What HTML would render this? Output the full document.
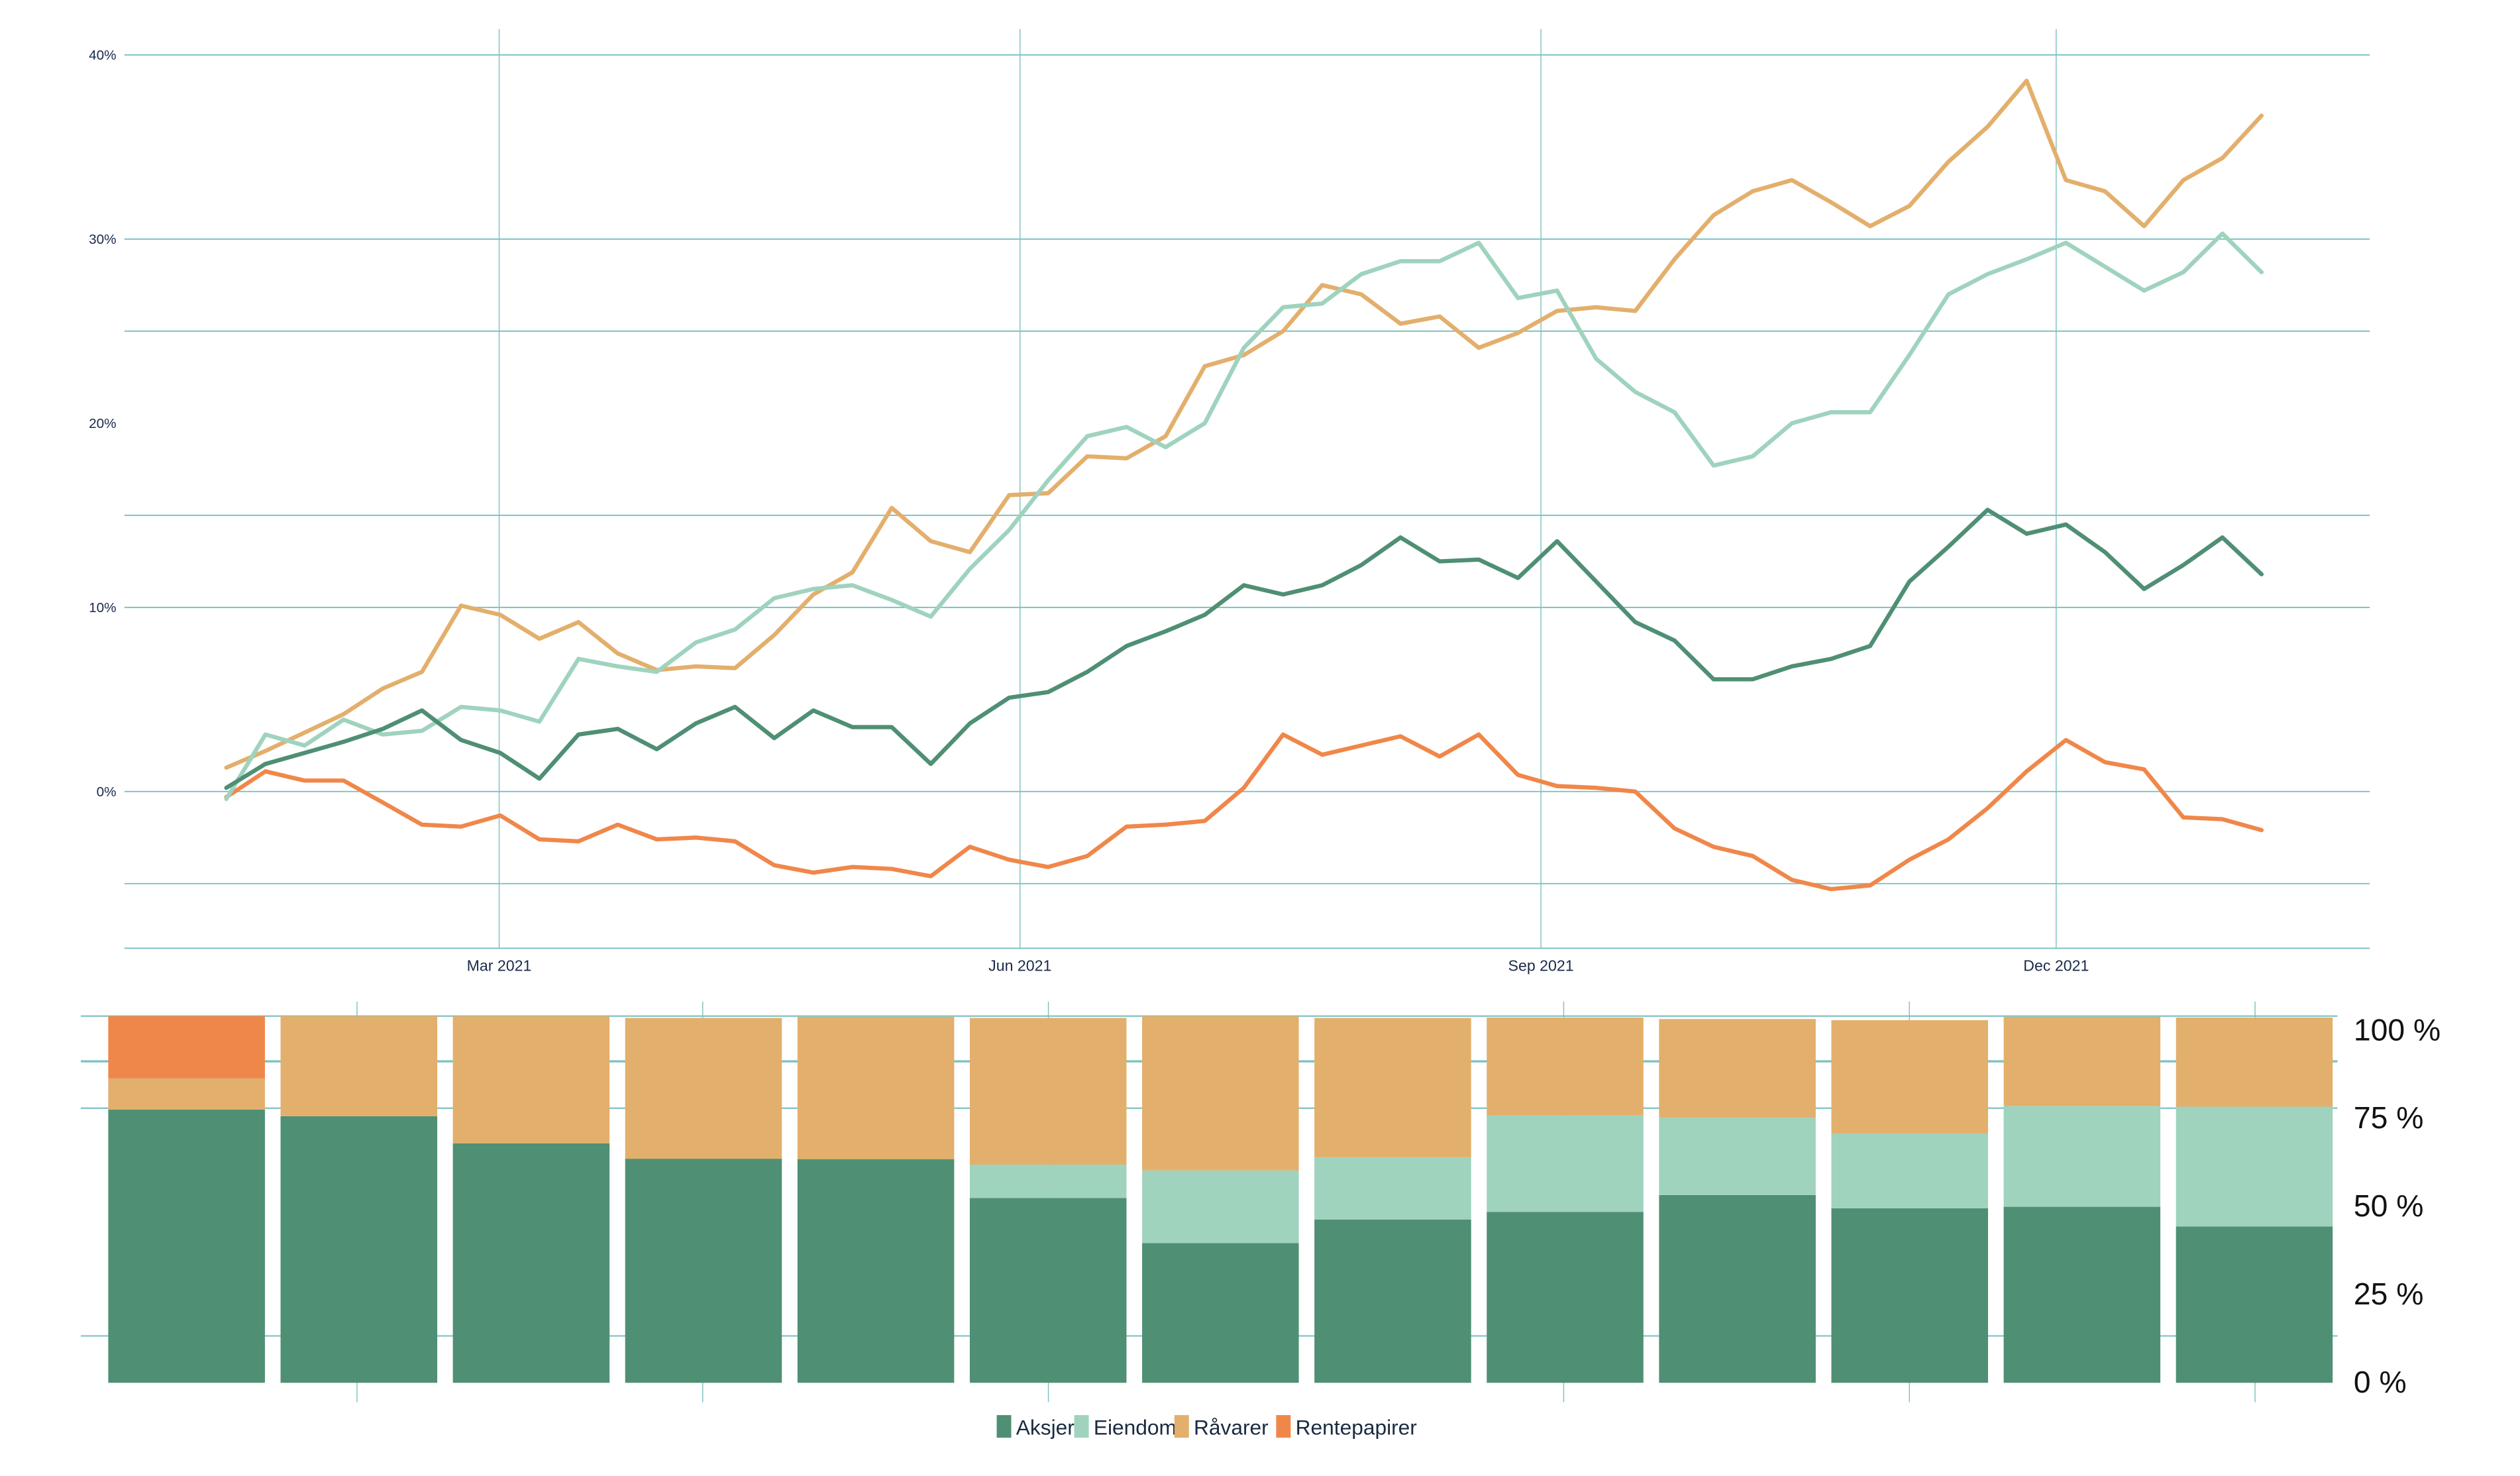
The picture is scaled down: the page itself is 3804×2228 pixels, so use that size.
<!DOCTYPE html>
<html><head><meta charset="utf-8"><style>
html,body{margin:0;padding:0;background:#fff;}
svg{display:block;}
text{font-family:"Liberation Sans",sans-serif;}
</style></head><body>
<svg id="chart" xmlns="http://www.w3.org/2000/svg" width="3804" height="2228" viewBox="0 0 1560 913.7">
<rect x="0" y="0" width="1560" height="913.7" fill="#fff"/>
<g id="top-grid"></g>
<g id="top-lines"></g>
<g id="top-axis"></g>
<g id="bot-grid"></g>
<g id="bars"></g>
<g id="bot-axis"></g>
<g id="legend">
  <rect x="617" y="876" width="9" height="14" fill="#4f8f74"/>
  <text x="629" y="888" font-size="13" fill="#1a2a40">Aksjer</text>
  <rect x="665" y="876" width="9" height="14" fill="#9fd3be"/>
  <text x="677" y="888" font-size="13" fill="#1a2a40">Eiendom</text>
  <rect x="727" y="876" width="9" height="14" fill="#e3af6c"/>
  <text x="739" y="888" font-size="13" fill="#1a2a40">Råvarer</text>
  <rect x="790" y="876" width="9" height="14" fill="#f0874a"/>
  <text x="802" y="888" font-size="13" fill="#1a2a40">Rentepapirer</text>
</g>
</svg>
<script>
// ---- line chart data (cumulative return, %) ----
const startDay = -48.2;     // days relative to 1 Mar 2021
const stepDays = 6.913;
const aksjer = [0.2,1.5,2.1,2.7,3.4,4.4,2.8,2.1,0.7,3.1,3.4,2.3,3.7,4.6,2.9,4.4,3.5,3.5,1.5,3.7,5.1,5.4,6.5,7.9,8.7,9.6,11.2,10.7,11.2,12.3,13.8,12.5,12.6,11.6,13.6,11.4,9.2,8.2,6.1,6.1,6.8,7.2,7.9,11.4,13.3,15.3,14.0,14.5,13.0,11.0,12.3,13.8,11.8];
const eiendom = [-0.4,3.1,2.5,3.9,3.1,3.3,4.6,4.4,3.8,7.2,6.8,6.5,8.1,8.8,10.5,11.0,11.2,10.4,9.5,12.1,14.2,16.9,19.3,19.8,18.7,20.0,24.1,26.3,26.5,28.1,28.8,28.8,29.8,26.8,27.2,23.5,21.7,20.6,17.7,18.2,20.0,20.6,20.6,23.7,27.0,28.1,28.9,29.8,28.5,27.2,28.2,30.3,28.2];
const ravarer = [1.3,2.2,3.2,4.2,5.6,6.5,10.1,9.6,8.3,9.2,7.5,6.6,6.8,6.7,8.5,10.7,11.9,15.4,13.6,13.0,16.1,16.2,18.2,18.1,19.3,23.1,23.7,25.0,27.5,27.0,25.4,25.8,24.1,24.9,26.1,26.3,26.1,28.9,31.3,32.6,33.2,32.0,30.7,31.8,34.2,36.1,38.6,33.2,32.6,30.7,33.2,34.4,36.7];
const rente = [-0.3,1.1,0.6,0.6,-0.6,-1.8,-1.9,-1.3,-2.6,-2.7,-1.8,-2.6,-2.5,-2.7,-4.0,-4.4,-4.1,-4.2,-4.6,-3.0,-3.7,-4.1,-3.5,-1.9,-1.8,-1.6,0.2,3.1,2.0,2.5,3.0,1.9,3.1,0.9,0.3,0.2,0.0,-2.0,-3.0,-3.5,-4.8,-5.3,-5.1,-3.7,-2.6,-0.9,1.1,2.8,1.6,1.2,-1.4,-1.5,-2.1];
const yTickVals = [40,30,20,10,0];
const yTickLabels = ["40%","30%","20%","10%","0%"];
const yGridVals = [40,30,25,15,10,0,-5];
const xTickDays = [0,92,184,275];
const xTickLabels = ["Mar 2021","Jun 2021","Sep 2021","Dec 2021"];

// ---- bar chart data (allocation share, %) ----
const barAksjer  = [74.5,72.7,65.3,61.1,61.0,50.4,38.1,44.5,46.6,51.2,47.6,48.0,42.6];
const barEiendom = [0,0,0,0,0,9.1,19.8,17.0,26.3,21.1,20.4,27.5,32.7];
const barRavarer = [8.5,27.3,34.7,38.4,38.8,40.0,42.1,38.0,26.7,26.9,30.9,24.3,24.3];
const barRente   = [17.0,0,0,0,0,0,0,0,0,0,0,0,0];
const pctLabels = ["100 %","75 %","50 %","25 %","0 %"];
const pctVals = [100,75,50,25,0];

const NS="http://www.w3.org/2000/svg";
function mk(tag, attrs, parent){const e=document.createElementNS(NS,tag);for(const k in attrs)e.setAttribute(k,attrs[k]);parent.appendChild(e);return e;}

// scales
const xL = d => 309 + d*3.505;
const yL = v => 490 - v*11.4;
const yB = v => 856 - v*2.27;
const bandX = i => 67 + i*106.67;
const bandW = 97;
const GRID="#7fc2c2";

// top grid
const tg=document.getElementById('top-grid');
yGridVals.forEach(v=>{
  const l=mk('line',{x1:77,x2:1467,y1:yL(v),y2:yL(v),stroke:GRID,'stroke-width':0.8},tg);
  
  
});
{const l=mk('line',{x1:77,x2:1467,y1:587,y2:587,stroke:GRID,'stroke-width':0.8},tg);

}
xTickDays.forEach(d=>{
  const l=mk('line',{x1:xL(d),x2:xL(d),y1:18,y2:587,stroke:GRID,'stroke-width':0.6},tg);
  
  
});

// lines
const tl=document.getElementById('top-lines');
const series=[[rente,'#f0874a','line-rentepapirer'],[ravarer,'#e3af6c','line-ravarer'],[eiendom,'#9fd3be','line-eiendom'],[aksjer,'#4f8f74','line-aksjer']];
series.forEach(([vals,col,name])=>{
  const pts=vals.map((v,i)=>xL(startDay+i*stepDays).toFixed(1)+','+yL(v).toFixed(1)).join(' ');
  const p=mk('polyline',{points:pts,fill:'none',stroke:col,'stroke-width':2.6,'stroke-linejoin':'round','stroke-linecap':'round'},tl);
  
  
});

// top axis labels
const ta=document.getElementById('top-axis');
yTickVals.forEach((v,i)=>{
  const t=mk('text',{x:72,y:yL(v)+3,'text-anchor':'end','font-size':8.5,fill:'#1a2a4a'},ta);
  t.textContent=yTickLabels[i];
  
  
});
xTickDays.forEach((d,i)=>{
  const t=mk('text',{x:xL(d),y:601,'text-anchor':'middle','font-size':9.5,fill:'#1a2a4a'},ta);
  t.textContent=xTickLabels[i];
  
  
});

// bottom grid
const bg=document.getElementById('bot-grid');
[629,657,686,827].forEach((y,i)=>{
  const l=mk('line',{x1:50,x2:1447,y1:y,y2:y,stroke:GRID,'stroke-width':i==1?1.4:0.9},bg);
  
  
});
[221,435,649,968,1182,1396].forEach(x=>{
  const l=mk('line',{x1:x,x2:x,y1:620,y2:868,stroke:GRID,'stroke-width':0.6},bg);
  
  
});

// bars
const bb=document.getElementById('bars');
const stack=[[barAksjer,'#4f8f74','aksjer'],[barEiendom,'#9fd3be','eiendom'],[barRavarer,'#e3af6c','ravarer'],[barRente,'#f0874a','rentepapirer']];
barAksjer.forEach((_,i)=>{
  let acc=0;
  stack.forEach(([arr,col,nm])=>{
    const v=arr[i];
    if(v>0){
      const r=mk('rect',{x:bandX(i),y:yB(acc+v),width:bandW,height:yB(acc)-yB(acc+v),fill:col},bb);
      
      
    }
    acc+=v;
  });
});

// right % labels
const ba=document.getElementById('bot-axis');
pctVals.forEach((v,i)=>{
  const t=mk('text',{x:1457,y:862-v*2.18,'font-size':19,fill:'#111'},ba);
  t.textContent=pctLabels[i];
  
  
});
</script>
</body></html>
